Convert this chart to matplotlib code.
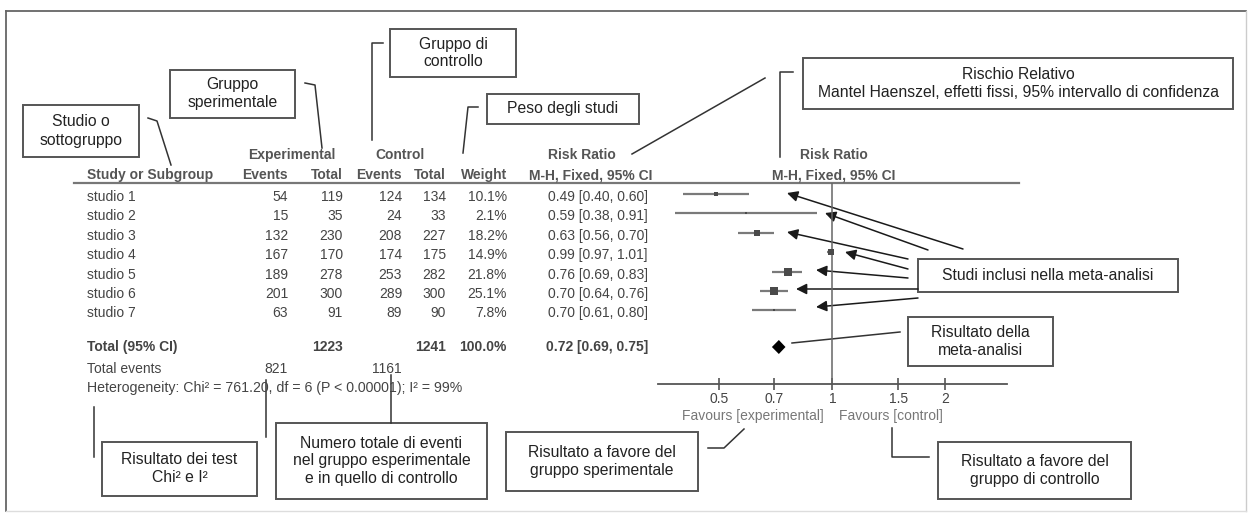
import matplotlib
matplotlib.use('Agg')
import matplotlib.pyplot as plt
from matplotlib.patches import Rectangle
from matplotlib.ticker import NullLocator

plt.rcParams['font.family'] = ['Liberation Sans', 'DejaVu Sans']

# data of the forest plot
studies = ['studio 1', 'studio 2', 'studio 3', 'studio 4', 'studio 5', 'studio 6', 'studio 7']
exp_events = [54, 15, 132, 167, 189, 201, 63]
exp_total = [119, 35, 230, 170, 278, 300, 91]
ctrl_events = [124, 24, 208, 174, 253, 289, 89]
ctrl_total = [134, 33, 227, 175, 282, 300, 90]
weights = [10.1, 2.1, 18.2, 14.9, 21.8, 25.1, 7.8]
rr = [0.49, 0.59, 0.63, 0.99, 0.76, 0.70, 0.70]
ci_low = [0.40, 0.38, 0.56, 0.97, 0.69, 0.64, 0.61]
ci_high = [0.60, 0.91, 0.70, 1.01, 0.83, 0.76, 0.80]

total_rr = 0.72
total_low = 0.69
total_high = 0.75
total_exp = 1223
total_ctrl = 1241
events_exp = 821
events_ctrl = 1161
heterogeneity = 'Heterogeneity: Chi² = 761.20, df = 6 (P < 0.00001); I² = 99%'

xticks = [0.5, 0.7, 1, 1.5, 2]
xtick_labels = ['0.5', '0.7', '1', '1.5', '2']

fig = plt.figure(figsize=(12.5, 5.22), dpi=100)

# full-figure axes in pixel units for the table and the annotations
ax = fig.add_axes([0, 0, 1, 1])
ax.set_xlim(0, 1250)
ax.set_ylim(522, 0)
ax.axis('off')

TXT = '#444444'
HDR = '#555555'
LINE = '#333333'

# outer frame (top/left dark, right/bottom faint)
ax.plot([6, 1246], [11, 11], color='#666666', lw=1.3)
ax.plot([6, 6], [11, 511], color='#666666', lw=1.3)
ax.plot([1246, 1246], [11, 511], color='#cccccc', lw=1)
ax.plot([6, 1246], [511, 511], color='#dddddd', lw=1)

# table header
ax.text(292, 155, 'Experimental', ha='center', va='center', fontsize=10, fontweight='bold', color=HDR)
ax.text(400, 155, 'Control', ha='center', va='center', fontsize=10, fontweight='bold', color=HDR)
ax.text(582, 155, 'Risk Ratio', ha='center', va='center', fontsize=10, fontweight='bold', color=HDR)
ax.text(834, 155, 'Risk Ratio', ha='center', va='center', fontsize=10, fontweight='bold', color=HDR)
hdr_y = 175
ax.text(87, hdr_y, 'Study or Subgroup', ha='left', va='center', fontsize=10, fontweight='bold', color=HDR)
for xr, lab in [(288, 'Events'), (343, 'Total'), (402, 'Events'), (446, 'Total'),
                (507, 'Weight'), (652, 'M-H, Fixed, 95% CI')]:
    ax.text(xr, hdr_y, lab, ha='right', va='center', fontsize=10, fontweight='bold', color=HDR)
ax.text(834, hdr_y, 'M-H, Fixed, 95% CI', ha='center', va='center', fontsize=10, fontweight='bold', color=HDR)
ax.plot([74, 1019], [183, 183], color='#777777', lw=1.6)

# study rows
row_y = [194 + 19.4 * i for i in range(len(studies))]
for i, name in enumerate(studies):
    y = row_y[i] + 3
    ax.text(87, y, name, ha='left', va='center', fontsize=10, color=TXT)
    ax.text(288, y, str(exp_events[i]), ha='right', va='center', fontsize=10, color=TXT)
    ax.text(343, y, str(exp_total[i]), ha='right', va='center', fontsize=10, color=TXT)
    ax.text(402, y, str(ctrl_events[i]), ha='right', va='center', fontsize=10, color=TXT)
    ax.text(446, y, str(ctrl_total[i]), ha='right', va='center', fontsize=10, color=TXT)
    ax.text(507, y, '%.1f%%' % weights[i], ha='right', va='center', fontsize=10, color=TXT)
    ax.text(648, y, '%.2f [%.2f, %.2f]' % (rr[i], ci_low[i], ci_high[i]),
            ha='right', va='center', fontsize=10, color=TXT)

# totals
ty = 347
ax.text(87, ty, 'Total (95% CI)', ha='left', va='center', fontsize=10, fontweight='bold', color=TXT)
ax.text(343, ty, str(total_exp), ha='right', va='center', fontsize=10, fontweight='bold', color=TXT)
ax.text(446, ty, str(total_ctrl), ha='right', va='center', fontsize=10, fontweight='bold', color=TXT)
ax.text(507, ty, '%.1f%%' % sum(weights), ha='right', va='center', fontsize=10, fontweight='bold', color=TXT)
ax.text(648, ty, '%.2f [%.2f, %.2f]' % (total_rr, total_low, total_high),
        ha='right', va='center', fontsize=10, fontweight='bold', color=TXT)
ax.text(87, 369, 'Total events', ha='left', va='center', fontsize=10, color=TXT)
ax.text(288, 369, str(events_exp), ha='right', va='center', fontsize=10, color=TXT)
ax.text(402, 369, str(events_ctrl), ha='right', va='center', fontsize=10, color=TXT)
ax.text(87, 388, heterogeneity, ha='left', va='center', fontsize=10.2, color=TXT)

# forest plot axes (log scale), placed over the right part of the table
fax = fig.add_axes([658 / 1250, 1 - 384 / 522, 349 / 1250, 201 / 522])
fax.patch.set_alpha(0)
fax.set_xscale('log')
fax.set_xlim(0.343, 2.92)
fax.set_ylim(384, 183)
for s in ['top', 'left', 'right']:
    fax.spines[s].set_visible(False)
fax.spines['bottom'].set_color('#555555')
fax.spines['bottom'].set_linewidth(1.3)
fax.set_yticks([])
fax.set_xticks(xticks)
fax.set_xticklabels(xtick_labels)
fax.xaxis.set_minor_locator(NullLocator())
fax.tick_params(axis='x', direction='inout', length=9, width=1.2, color='#555555',
                labelsize=10, labelcolor='#444444', pad=1)
fax.axvline(1, color='#666666', lw=1.1)

for i in range(len(studies)):
    fax.plot([ci_low[i], ci_high[i]], [row_y[i], row_y[i]], color='#7a7a7a', lw=1.6, solid_capstyle='butt')
    fax.plot(rr[i], row_y[i], marker='s', ms=max(1.8, 0.25 * weights[i]), color='#4a4a4a', mew=0)
fax.fill([total_low, total_rr, total_high, total_rr], [ty, ty - 7, ty, ty + 7], color='black', lw=0)

ax.text(824, 416, 'Favours [experimental]', ha='right', va='center', fontsize=10, color='#777777')
ax.text(839, 416, 'Favours [control]', ha='left', va='center', fontsize=10, color='#777777')


def box(x0, y0, x1, y1, text):
    ax.add_patch(Rectangle((x0, y0), x1 - x0, y1 - y0, fill=False, ec='#555555', lw=1.4))
    ax.text((x0 + x1) / 2, (y0 + y1) / 2, text, ha='center', va='center',
            fontsize=11.3, color='#222222', linespacing=1.25)


def line(xs, ys):
    ax.plot(xs, ys, color=LINE, lw=1.1)


# annotation boxes
box(23, 105, 139, 157, 'Studio o\nsottogruppo')
line([148, 157, 171], [118, 121, 165])

box(170, 70, 295, 118, 'Gruppo\nsperimentale')
line([305, 315, 322], [83, 85, 148])

box(390, 29, 516, 77, 'Gruppo di\ncontrollo')
line([383, 372, 372], [43, 43, 140])

box(487, 94, 639, 124, 'Peso degli studi')
line([478, 468, 463], [107, 107, 153])

box(803, 58, 1233, 109, 'Rischio Relativo\nMantel Haenszel, effetti fissi, 95% intervallo di confidenza')
line([632, 765], [154, 78])
line([793, 780, 780], [72, 72, 157])

box(918, 259, 1178, 292, 'Studi inclusi nella meta-analisi')
arrows = [((787, 193), (963, 249)), ((825, 213), (928, 250)), ((787, 232), (908, 259)),
          ((845, 252), (908, 269)), ((816, 270), (908, 278)), ((796, 289), (918, 289)),
          ((816, 307), (918, 298))]
for head, tail in arrows:
    ax.annotate('', xy=head, xytext=tail,
                arrowprops=dict(arrowstyle='-|>', color='#1a1a1a', lw=1.1,
                                mutation_scale=16, shrinkA=0, shrinkB=0))

box(908, 317, 1053, 366, 'Risultato della\nmeta-analisi')
line([792, 900], [343, 332])

box(102, 442, 257, 496, 'Risultato dei test\nChi² e I²')
line([94, 94], [407, 457])
line([266, 266], [380, 437])

box(276, 423, 487, 499, 'Numero totale di eventi\nnel gruppo esperimentale\ne in quello di controllo')
line([391, 391], [423, 375])

box(506, 432, 698, 491, 'Risultato a favore del\ngruppo sperimentale')
line([708, 724, 744], [448, 448, 429])

box(938, 442, 1131, 499, 'Risultato a favore del\ngruppo di controllo')
line([929, 892, 892], [457, 457, 428])

plt.savefig('out.png', dpi=100)
plt.close()
